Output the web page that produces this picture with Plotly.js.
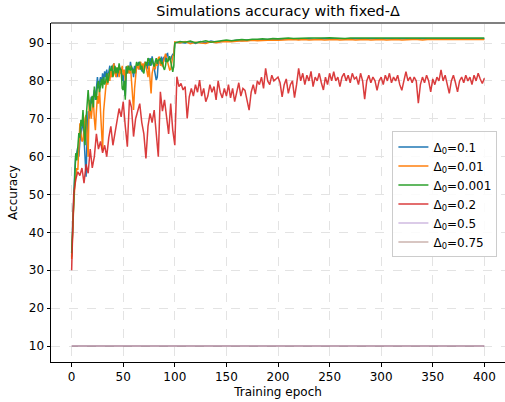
<!DOCTYPE html>
<html>
<head>
<meta charset="utf-8">
<script src="https://cdn.plot.ly/plotly-3.0.1.min.js"></script>
<style>html,body{margin:0;padding:0;background:#fff;}#chart{width:505px;height:402px;}</style>
</head>
<body>
<div id="chart"></div>
<script>
// ---- Data ----
const labels = ["Δ<sub>0</sub>=0.1", "Δ<sub>0</sub>=0.01", "Δ<sub>0</sub>=0.001", "Δ<sub>0</sub>=0.2", "Δ<sub>0</sub>=0.5", "Δ<sub>0</sub>=0.75"];

// epochs 0..100 (every epoch), then 105..400 (every 5 epochs)
const epochsEarly = Array.from({length: 101}, (_, i) => i);
const epochsLate = Array.from({length: 60}, (_, i) => 105 + 5 * i);

const acc01Early = [33.6,42,50,56,60.5,61,62.5,60,64,66,68,69.7,65,58,54.7,66,72,70,73,75.8,
74,76,77.6,75,79,81,78,80,81,79,82,80,82.5,81,83,80.5,82.9,84,81,83,
84,84.6,82,83.5,81,82.9,84,82,83.5,80,82,78,76,83.8,82,84,82,85,83,83.5,
81,84,82,83.5,84.5,85,83,84,82.5,83,84,85,84.6,83,85,84,86,84,86.5,85,
83,82,80.2,81,85,86,84.5,86.4,85,86,86.4,85,87,87.2,85.5,86,85.5,86.5,87,86.8,90.1];
const acc01Late = [90.2,90.0,90.3,89.9,90.4,90.1,90.5,90.2,90.4,90.6,90.5,90.7,90.6,90.8,90.7,90.8,90.9,90.9,91.0,90.9,
91.0,91.0,91.1,91.0,91.1,91.1,91.0,91.1,91.2,91.1,91.1,91.2,91.1,91.2,91.2,91.1,91.2,91.2,91.1,91.2,
91.2,91.1,91.2,91.1,91.2,91.2,91.1,91.2,91.1,91.2,91.2,91.1,91.2,91.1,91.2,91.2,91.1,91.2,91.1,91.1];

const acc001Early = [33,41.5,47,52,55,57,56.5,62,68.8,66,64,64.4,68,70,71,65,60,75,73,70,
73,75,70,67,72,76,74,78,72,66,61.7,72,76,78,80.2,79,82,80,83,81,
83.5,84.6,82,81,83.5,82.9,81,83,82,84,81.5,83,80,82,84,82.5,82,84,80,75,
72.3,78,82,84,83.8,83,84.5,85,83,84.6,83,85,84,82.9,81,84,80,76.7,82,84,
84.6,83,85,84,86,86.4,84,85,83.8,85,86,87.2,86,85,84.5,82.9,83,85,86.5,87,90.3];
const acc001Late = [90.0,90.4,89.8,90.2,90.0,89.9,90.3,90.1,90.3,90.4,90.3,90.5,90.6,90.5,90.7,90.6,90.7,90.8,90.8,90.7,
90.8,90.8,90.9,90.8,90.9,90.8,90.9,90.9,90.8,90.9,90.9,90.8,90.9,90.9,90.8,90.9,90.9,90.8,90.9,90.9,
90.8,90.9,90.9,90.8,90.9,90.9,90.9,90.8,90.9,90.9,90.8,90.9,90.9,90.8,90.9,90.9,90.8,90.9,90.9,90.9];

const acc0001Early = [34.5,41.5,48,55,60.9,59,64,66.2,65,69.7,68,72.3,67,63,70,75,77.6,74,72,75,
76,73,78.5,76,75,79,80,77,79,80.5,78,81,79,80,82,79.5,81,83,82.9,84,
81,83,84,82,83.5,82,84.6,83,82.9,78,77.6,80,75,83.8,82,84,83,82.9,84,82,
83,82,83.5,85,84,84.6,85,83,84,82.5,82,84,85,84,86,85.5,84,85,86,84.5,
83.8,85,86,84.5,85.5,85.5,86,84.5,85,83.5,82.9,84,86,85,85.5,86.5,85,84,82.4,84,90.0];
const acc0001Late = [90.4,90.2,90.5,90.1,90.3,90.6,90.2,90.5,90.6,90.8,90.6,90.8,90.9,90.8,91.0,91.0,91.1,91.0,91.2,91.1,
91.2,91.3,91.2,91.3,91.2,91.3,91.3,91.2,91.3,91.4,91.3,91.3,91.2,91.3,91.3,91.4,91.3,91.3,91.2,91.3,
91.3,91.4,91.3,91.3,91.2,91.3,91.3,91.4,91.3,91.3,91.2,91.3,91.3,91.3,91.4,91.3,91.3,91.2,91.3,91.3];

// Δ0=0.2 every 2 epochs, 0..400
const epochsRed = Array.from({length: 201}, (_, i) => 2 * i);
const acc02 = [30,50,54,56,55,57,53,58,55.6,62,57,60,66,62,64,61,63,60,65,68,
63,66,70,72.7,70.5,74.5,68,62.6,75,73,65.3,70,72,74,69,66,59.5,68,71.4,69,
72.3,66,60,77.1,72,75,70,66,74,67,63,81.1,78.5,79.3,77.6,78.5,70.1,75.8,78,76,
79,77,80.2,76,78,74.5,76,79,77,78.5,75,80,77,75.5,78,76,79,75.5,78,74.5,
77,79.5,76,78,77.5,75,72.3,77,79,76.5,80,79,81,78,83.3,80,79,81.5,80,80.5,
81,79.5,75.8,79,80.5,76.7,79,80,75.6,79,83.3,80,82,79,81.5,80,82.5,78.5,81,80,
82,79.5,77.6,81,79,82,80,82.4,80,81,78.5,81,82,80,81.5,79.5,82,80.5,81,79,
82,80,75.2,80,81.5,79.5,81,80,77.5,80,81,79,81.5,80,82,79.5,81,80,81.5,79,
77.5,80,82.4,80,81,79.5,81,80,74.1,79,81,79.5,81.5,80,77.1,80.5,79,81,80,82.9,
80,81.5,79,76.7,80,81.5,79.5,77.1,80,81,79.5,81.5,80,81,79,81.5,80,82,80.5,79.3,80.7];

const epochsFlat = [0, 400];
const acc05 = [10, 10];
const acc075 = [10, 10];

const colors = ["#1f77b4", "#ff7f0e", "#2ca02c", "#d62728", "#9467bd", "#8c564b"];

const traces = [
  {x: epochsEarly.concat(epochsLate), y: acc01Early.concat(acc01Late), name: labels[0], color: colors[0], op: 1},
  {x: epochsEarly.concat(epochsLate), y: acc001Early.concat(acc001Late), name: labels[1], color: colors[1], op: 1},
  {x: epochsEarly.concat(epochsLate), y: acc0001Early.concat(acc0001Late), name: labels[2], color: colors[2], op: 1},
  {x: epochsRed, y: acc02, name: labels[3], color: colors[3], op: 0.9},
  {x: epochsFlat, y: acc05, name: labels[4], color: colors[4], op: 0.45},
  {x: epochsFlat, y: acc075, name: labels[5], color: colors[5], op: 0.45}
].map(t => ({
  type: "scatter", mode: "lines", x: t.x, y: t.y, name: t.name,
  line: {color: t.color, width: 1.5}, opacity: t.op
}));

const font = {family: "DejaVu Sans, sans-serif", size: 12, color: "#000"};

const layout = {
  width: 505, height: 402,
  margin: {l: 51, r: 0, t: 23, b: 40},
  paper_bgcolor: "#fff", plot_bgcolor: "#fff",
  font: font,
  showlegend: true,
  title: {text: "Simulations accuracy with fixed-Δ", font: {family: "DejaVu Sans, sans-serif", size: 14.4, color: "#000"},
          x: 0.5, xref: "paper", y: 0.985, yanchor: "top"},
  xaxis: {
    range: [-20, 420], tickvals: [0,50,100,150,200,250,300,350,400],
    ticks: "outside", ticklen: 3.5, tickwidth: 1, tickcolor: "#000",
    showline: true, linecolor: "#000", linewidth: 1, mirror: false,
    showgrid: true, gridcolor: "#e3e3e3", griddash: "dash", gridwidth: 1,
    zeroline: false, tickfont: font,
    title: {text: "Training epoch", font: font, standoff: 4}
  },
  yaxis: {
    range: [5.78, 95.28], tickvals: [10,20,30,40,50,60,70,80,90],
    ticks: "outside", ticklen: 3.5, tickwidth: 1, tickcolor: "#000",
    showline: true, linecolor: "#000", linewidth: 1,
    showgrid: true, gridcolor: "#e3e3e3", griddash: "dash", gridwidth: 1,
    zeroline: false, tickfont: font,
    title: {text: "Accuracy", font: font, standoff: 8}
  },
  legend: {
    x: 0.752, y: 0.68, xanchor: "left", yanchor: "top",
    bgcolor: "rgba(255,255,255,0.85)", bordercolor: "#cccccc", borderwidth: 1,
    font: font, tracegroupgap: 0, itemwidth: 30
  },
  shapes: [
    {type: "line", xref: "paper", yref: "paper", x0: 0, x1: 1, y0: 1, y1: 1,
     line: {color: "#808080", width: 2}}
  ]
};

Plotly.newPlot("chart", traces, layout, {displayModeBar: false, staticPlot: true});
</script>
</body>
</html>
